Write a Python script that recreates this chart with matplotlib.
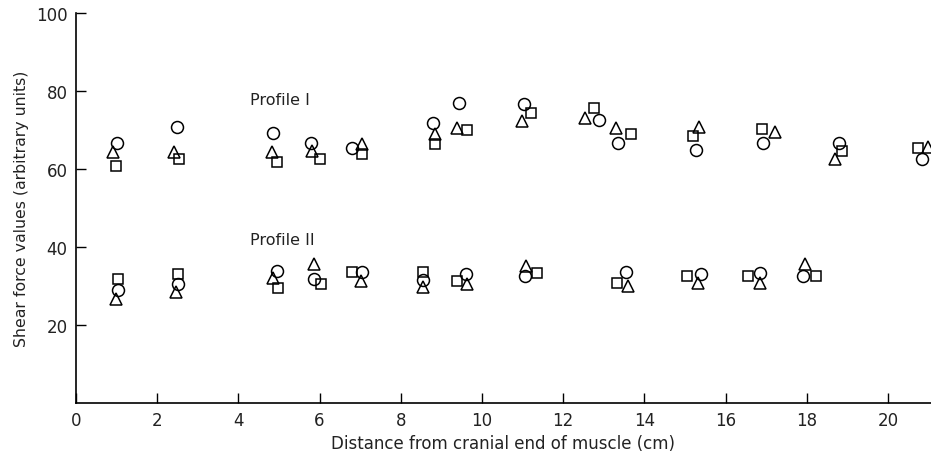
import matplotlib
matplotlib.use("Agg")
import matplotlib.pyplot as plt

# Profile I
p1_circle_x = [1.02, 2.50, 4.86, 5.78, 6.79, 8.80, 9.44, 11.03, 12.89, 13.36, 15.26, 16.91, 18.79, 20.83]
p1_circle_y = [66.7, 70.9, 69.2, 66.7, 65.3, 71.7, 76.9, 76.7, 72.6, 66.8, 64.9, 66.8, 66.7, 62.6]
p1_tri_x = [0.91, 2.42, 4.82, 5.81, 7.04, 8.84, 9.39, 10.98, 12.54, 13.29, 15.35, 17.22, 18.69, 20.99]
p1_tri_y = [64.4, 64.3, 64.4, 64.7, 66.4, 69.0, 70.4, 72.2, 73.0, 70.5, 70.9, 69.6, 62.7, 65.6]
p1_sq_x = [0.99, 2.54, 4.94, 6.01, 7.04, 8.84, 9.62, 11.22, 12.76, 13.66, 15.20, 16.89, 18.88, 20.75]
p1_sq_y = [60.7, 62.6, 61.9, 62.6, 63.8, 66.4, 70.1, 74.4, 75.6, 69.0, 68.4, 70.3, 64.7, 65.3]

# Profile II
p2_circle_x = [1.03, 2.52, 4.96, 5.86, 7.04, 8.54, 9.61, 11.06, 13.55, 15.39, 16.86, 17.90]
p2_circle_y = [29.0, 30.5, 33.9, 31.8, 33.5, 31.6, 33.1, 32.5, 33.5, 33.1, 33.3, 32.6]
p2_tri_x = [0.99, 2.46, 4.86, 5.86, 7.01, 8.54, 9.64, 11.08, 13.60, 15.31, 16.85, 17.96]
p2_tri_y = [26.7, 28.5, 32.0, 35.6, 31.4, 29.8, 30.5, 35.2, 29.9, 30.8, 30.9, 35.6]
p2_sq_x = [1.04, 2.52, 4.98, 6.03, 6.79, 8.54, 9.39, 11.35, 13.33, 15.06, 16.56, 18.22]
p2_sq_y = [31.8, 33.1, 29.4, 30.5, 33.5, 33.7, 31.4, 33.3, 30.8, 32.5, 32.5, 32.6]

x_ticks = [0, 2, 4, 6, 8, 10, 12, 14, 16, 18, 20]
y_ticks = [20, 40, 60, 80, 100]

fig = plt.figure(figsize=(9.31, 4.52), dpi=100)
ax = fig.add_axes([0.0816, 0.106, 0.9184, 0.863])

style = dict(linestyle="none", color="black", fillstyle="none", markeredgewidth=1.1)
for xs, ys in [(p1_circle_x, p1_circle_y), (p2_circle_x, p2_circle_y)]:
    ax.plot(xs, ys, marker="o", markersize=8.6, **style)
for xs, ys in [(p1_tri_x, p1_tri_y), (p2_tri_x, p2_tri_y)]:
    ax.plot(xs, ys, marker="^", markersize=8.4, **style)
for xs, ys in [(p1_sq_x, p1_sq_y), (p2_sq_x, p2_sq_y)]:
    ax.plot(xs, ys, marker="s", markersize=7.6, **style)

ax.text(4.29, 77.7, "Profile I", fontsize=11.5, va="center", ha="left", color="#222222")
ax.text(4.29, 42.0, "Profile II", fontsize=11.5, va="center", ha="left", color="#222222")

ax.set_xlim(0, 21.06)
ax.set_ylim(0, 100)
ax.set_xticks(x_ticks)
ax.set_yticks(y_ticks)
ax.tick_params(direction="in", length=7.5, width=1.0, labelsize=12, pad=6,
               labelcolor="#222222")

for side in ["top", "right"]:
    ax.spines[side].set_visible(False)
for side in ["left", "bottom"]:
    ax.spines[side].set_linewidth(1.2)

ax.set_xlabel("Distance from cranial end of muscle (cm)", fontsize=12, labelpad=3,
              color="#222222")
ax.set_ylabel("Shear force values (arbitrary units)", fontsize=11.3, labelpad=5,
              color="#222222")

fig.savefig("out.png", dpi=100)
